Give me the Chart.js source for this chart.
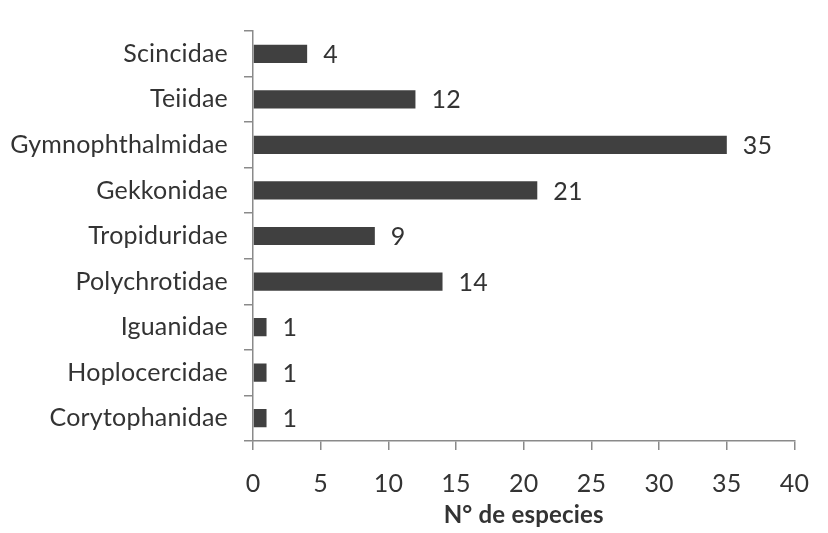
<!DOCTYPE html>
<html>
<head>
<meta charset="utf-8">
<script src="https://cdn.jsdelivr.net/npm/chart.js@4"></script>
<style>
  html, body { margin: 0; padding: 0; background: #fff; }
  #wrap { width: 828px; height: 533px; }
</style>
</head>
<body>
<div id="wrap"><canvas id="familyChart" width="828" height="533"></canvas></div>
<script>
const families = [
  "Scincidae", "Teiidae", "Gymnophthalmidae", "Gekkonidae", "Tropiduridae",
  "Polychrotidae", "Iguanidae", "Hoplocercidae", "Corytophanidae",
];
const species = [4, 12, 35, 21, 9, 14, 1, 1, 1];
const xTicks = [0, 5, 10, 15, 20, 25, 30, 35, 40];
const axisTitle = "N° de especies";

const textColor = "#333";
const axisColor = "#8a8a8a";
const fontFamily = "Lato, 'Open Sans', sans-serif";

// a little letter spacing also stops Lato from joining "ti"
const noLigatures = {
  id: "noLigatures",
  beforeDraw(chart) {
    chart.ctx.letterSpacing = "0.2px";
  },
};

// numbers at the end of each bar
const valueLabels = {
  id: "valueLabels",
  afterDatasetsDraw(chart) {
    const { ctx } = chart;
    const meta = chart.getDatasetMeta(0);
    ctx.save();
    ctx.fillStyle = textColor;
    ctx.font = "25px " + fontFamily;
    ctx.textAlign = "left";
    ctx.textBaseline = "middle";
    meta.data.forEach((bar, i) => {
      ctx.fillText(String(species[i]), bar.x + 16, bar.y + 1);
    });
    ctx.restore();
  },
};

new Chart(document.getElementById("familyChart"), {
  type: "bar",
  data: {
    labels: families,
    datasets: [
      {
        data: species,
        backgroundColor: "#404040",
        barPercentage: 0.4,
        categoryPercentage: 1,
      },
    ],
  },
  options: {
    indexAxis: "y",
    responsive: false,
    animation: false,
    layout: { padding: { top: 8, right: 19, left: 0, bottom: 0 } },
    plugins: { legend: { display: false }, tooltip: { enabled: false } },
    scales: {
      x: {
        min: 0,
        max: 40,
        afterBuildTicks: (axis) => {
          axis.ticks = xTicks.map((v) => ({ value: v }));
        },
        afterFit: (axis) => {
          axis.height = 92;
        },
        border: { color: axisColor, width: 1.5 },
        grid: { drawOnChartArea: false, color: axisColor, tickLength: 9, lineWidth: 1.5 },
        ticks: { color: textColor, padding: 19, font: { family: fontFamily, size: 25 } },
        title: {
          display: true,
          text: axisTitle,
          color: textColor,
          padding: { top: 0, bottom: 3 },
          font: { family: fontFamily, size: 24, weight: "bold" },
        },
      },
      y: {
        offset: true,
        afterFit: (axis) => {
          axis.width = 253;
        },
        border: { color: axisColor, width: 1.5 },
        grid: { offset: true, drawOnChartArea: false, color: axisColor, tickLength: 9, lineWidth: 1.5 },
        ticks: { color: textColor, padding: 16, autoSkip: false, font: { family: fontFamily, size: 25 } },
      },
    },
  },
  plugins: [noLigatures, valueLabels],
});
</script>
</body>
</html>
